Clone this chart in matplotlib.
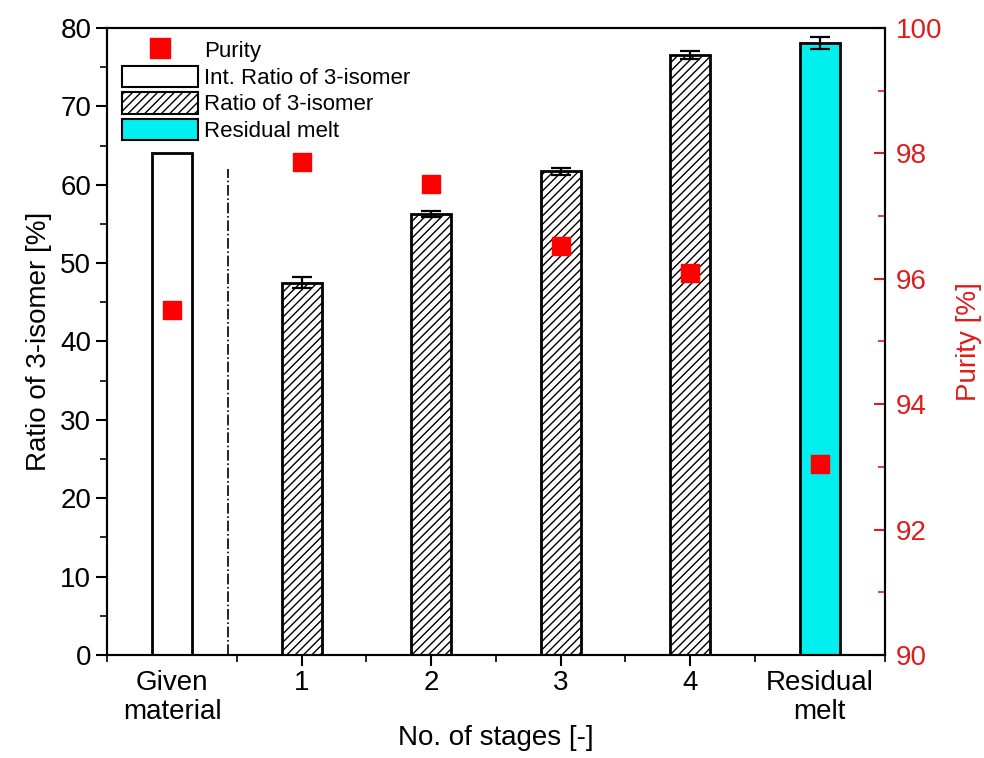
import matplotlib
matplotlib.use('Agg')
from matplotlib import pyplot as plt
from matplotlib.lines import Line2D
from matplotlib.patches import Patch
from matplotlib.ticker import MultipleLocator
import numpy as np

plt.rcParams['font.family'] = ['Liberation Sans', 'DejaVu Sans']
plt.rcParams['hatch.color'] = '#333333'
plt.rcParams['hatch.linewidth'] = 1.0

labels = ['Given\nmaterial', '1', '2', '3', '4', 'Residual\nmelt']
ratio = [64.0, 47.5, 56.3, 61.7, 76.6, 78.1]
ratio_err = [0, 0.7, 0.4, 0.5, 0.5, 0.8]
purity = [95.5, 97.86, 97.52, 96.53, 96.1, 93.05]

x = np.arange(len(labels))
red = '#dd1c1c'

fig = plt.figure(figsize=(9.84, 7.58), dpi=100)
ax = fig.add_axes([0.109, 0.136, 0.79, 0.827])
ax2 = ax.twinx()

w = 0.31
ax.bar(x[0], ratio[0], w, color='white', edgecolor='black', lw=2)
ax.bar(x[1:5], ratio[1:5], w, yerr=ratio_err[1:5], color='white', edgecolor='black',
       lw=2, hatch='////', capsize=7, error_kw=dict(elinewidth=1.6, capthick=1.6))
ax.bar(x[5], ratio[5], w, yerr=ratio_err[5], color='#00f0f0', edgecolor='black', lw=2,
       capsize=7, error_kw=dict(elinewidth=1.6, capthick=1.6))
ax.plot([0.43, 0.43], [0, 62], ls='-.', c='black', lw=1.2)

ax2.plot(x, purity, 's', ms=13, c='red', mec='red')

ax.set_xlim(-0.5, 5.5)
ax.set_ylim(0, 80)
ax2.set_ylim(90, 100)

ax.set_xticks(x)
ax.set_xticklabels(labels, linespacing=1.15)
ax.xaxis.set_minor_locator(MultipleLocator(1, offset=0.5))
ax.yaxis.set_major_locator(MultipleLocator(10))
ax.yaxis.set_minor_locator(MultipleLocator(5))
ax2.yaxis.set_major_locator(MultipleLocator(2))
ax2.yaxis.set_minor_locator(MultipleLocator(1))

ax.tick_params(axis='both', which='major', direction='out', length=8, width=1.5, labelsize=20)
ax.tick_params(axis='x', which='major', pad=3)
ax.tick_params(axis='both', which='minor', direction='out', length=5, width=1.2)
ax2.tick_params(axis='y', which='major', direction='in', length=8, width=1.5, labelsize=20,
                colors=red, pad=8)
ax2.tick_params(axis='y', which='minor', direction='in', length=5, width=1.2, colors=red)
for t in ax2.yaxis.get_ticklines(minor=False) + ax2.yaxis.get_ticklines(minor=True):
    t.set_color('black')
for i in (0, -1):
    ax.xaxis.get_major_ticks()[i].tick1line.set_visible(False)

for sp in ax.spines.values():
    sp.set_linewidth(1.5)
for sp in ax2.spines.values():
    sp.set_linewidth(1.5)

ax.set_ylabel('Ratio of 3-isomer [%]', fontsize=20, labelpad=6)
ax.set_xlabel('No. of stages [-]', fontsize=20, labelpad=0)
ax2.set_ylabel('Purity [%]', fontsize=20, color=red, labelpad=10)

handles = [
    Line2D([], [], ls='none', marker='s', ms=14, c='red'),
    Patch(facecolor='white', edgecolor='black', lw=1.5),
    Patch(facecolor='white', edgecolor='black', lw=1.5, hatch='////'),
    Patch(facecolor='#00f0f0', edgecolor='black', lw=1.5),
]
names = ['Purity', 'Int. Ratio of 3-isomer', 'Ratio of 3-isomer', 'Residual melt']
ax.legend(handles, names, loc='upper left', frameon=False, fontsize=16,
          handlelength=3.4, handleheight=1.1, handletextpad=0.3, labelspacing=0.15,
          borderaxespad=0.1, bbox_to_anchor=(0.005, 1.0))

fig.savefig('out.png', dpi=100)
